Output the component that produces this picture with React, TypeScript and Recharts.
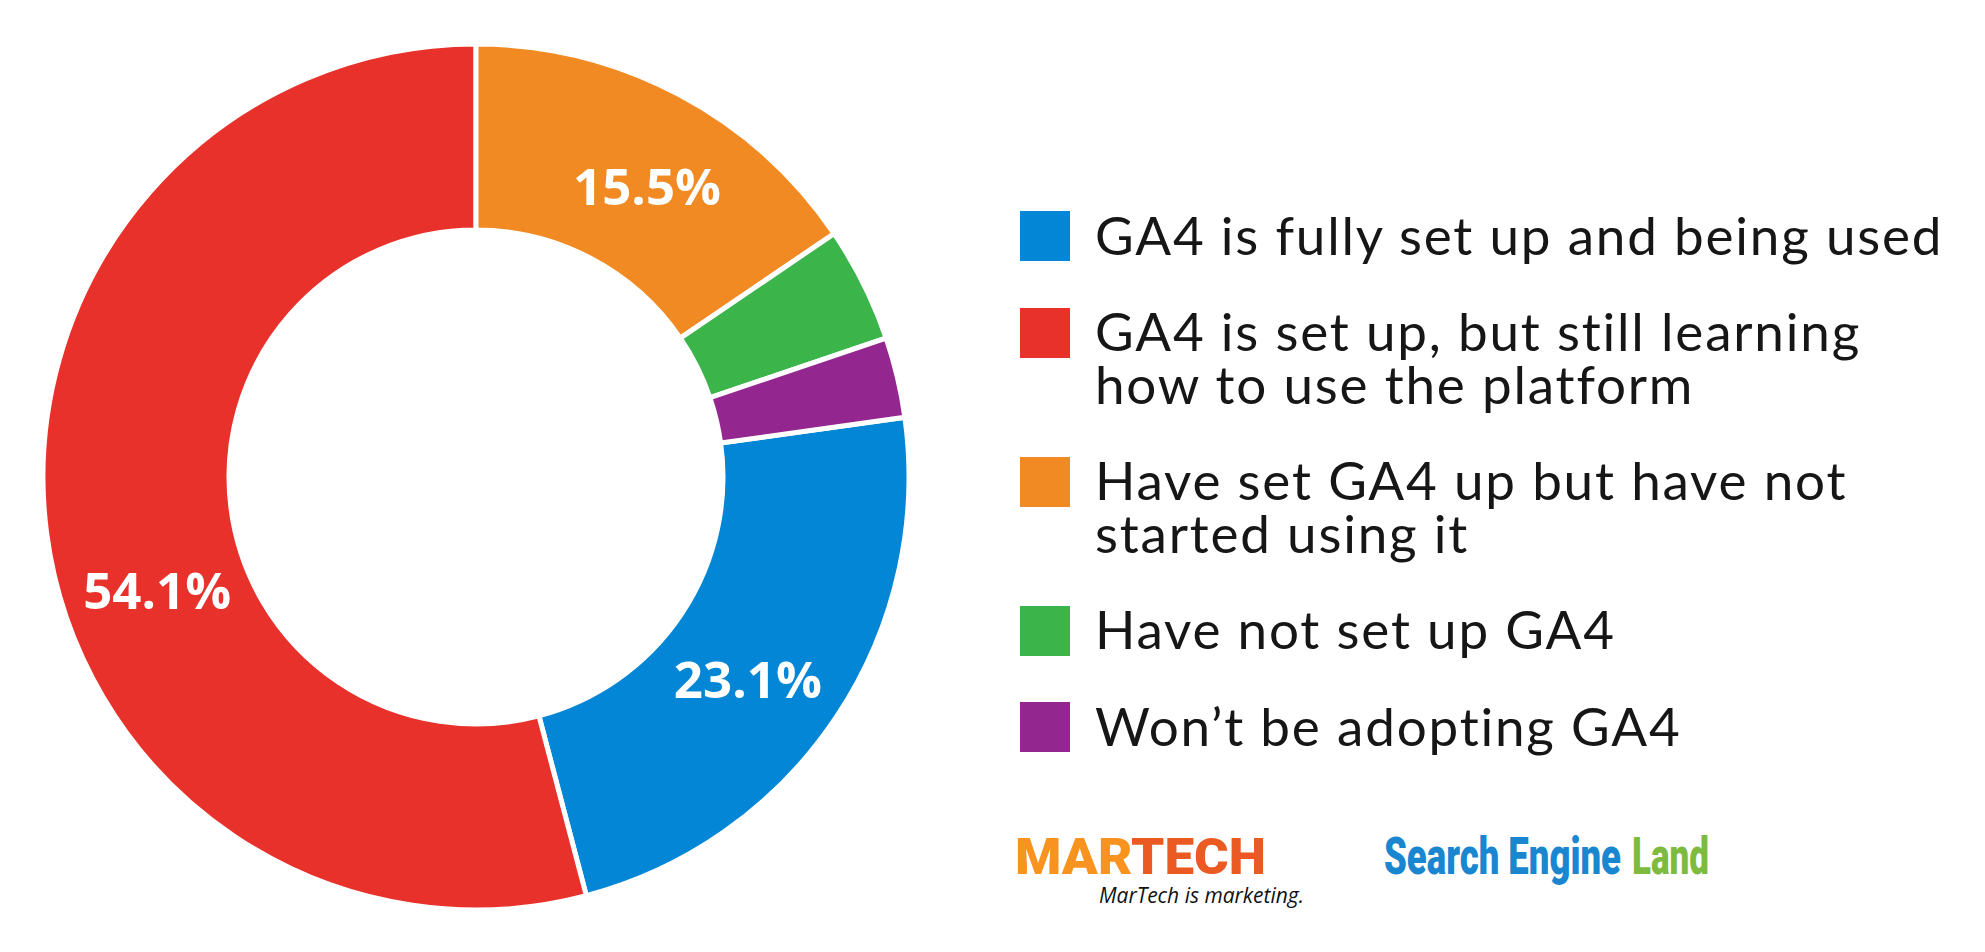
import { Cell, Legend, Pie, PieChart } from "recharts";

const categories = [
  "GA4 is fully set up and being used",
  "GA4 is set up, but still learning\nhow to use the platform",
  "Have set GA4 up but have not\nstarted using it",
  "Have not set up GA4",
  "Won’t be adopting GA4",
];
const shares = [23.1, 54.1, 15.5, 4.3, 3.0];
const colors = ["#0386D5", "#E8312A", "#F18A22", "#3BB44A", "#93278F"];

// nudges (degrees clockwise) for the in-ring percent labels
const labelNudge = [2.8, -12, 2.5, 0, 0];

const data = categories.map((name, i) => ({ name, value: shares[i] }));

// first slice (blue) starts right after the three trailing slices, counted from 12 o'clock
const trailing = shares.slice(2).reduce((a, b) => a + b, 0);
const total = shares.reduce((a, b) => a + b, 0);
const startAngle = 90 - (trailing / total) * 360;

function renderLabel(props: any) {
  const { cx, cy, midAngle, index, value } = props;
  if (value < 10) return null;
  const a = ((midAngle - labelNudge[index]) * Math.PI) / 180;
  const r = 338;
  return (
    <text
      x={cx + r * Math.cos(a)}
      y={cy - r * Math.sin(a)}
      fill="#fff"
      textAnchor="middle"
      dominantBaseline="central"
      fontFamily="'Open Sans', sans-serif"
      fontWeight={700}
      fontSize={51}
    >
      {value.toFixed(1)}%
    </text>
  );
}

function LegendList() {
  return (
    <div style={{ fontFamily: "Lato, sans-serif", color: "#161616" }}>
      {categories.map((c, i) => (
        <div key={c} style={{ display: "flex", alignItems: "flex-start", marginBottom: 45 }}>
          <div
            style={{
              width: 50,
              height: 50,
              background: colors[i],
              marginTop: 1.5,
              flexShrink: 0,
            }}
          />
          <div
            style={{
              marginLeft: 25,
              marginTop: -2,
              fontSize: 53,
              letterSpacing: 1.8,
              lineHeight: "53px",
              whiteSpace: "pre-line",
            }}
          >
            {c}
          </div>
        </div>
      ))}
    </div>
  );
}

export default function App() {
  return (
    <div
      style={{
        position: "absolute",
        left: 0,
        top: 0,
        width: 1985,
        height: 952,
        background: "#fff",
        overflow: "hidden",
      }}
    >
      <PieChart width={1985} height={952} margin={{ top: 0, right: 0, bottom: 0, left: 0 }}>
        <Pie
          data={data}
          dataKey="value"
          nameKey="name"
          cx={476}
          cy={477}
          innerRadius={247}
          outerRadius={433}
          startAngle={startAngle}
          endAngle={startAngle - 360}
          stroke="#fff"
          strokeWidth={5}
          label={renderLabel}
          labelLine={false}
          isAnimationActive={false}
        >
          {data.map((d, i) => (
            <Cell key={d.name} fill={colors[i]} />
          ))}
        </Pie>
        <Legend
          layout="vertical"
          wrapperStyle={{ left: 1020, top: 209.5, width: 960 }}
          content={() => <LegendList />}
        />
      </PieChart>
      <svg
        width={1985}
        height={952}
        style={{ position: "absolute", left: 0, top: 0, pointerEvents: "none" }}
      >
        <text
          x={1015}
          y={874}
          fontFamily="Roboto, sans-serif"
          fontWeight={900}
          fontSize={50}
          textLength={251}
          lengthAdjust="spacingAndGlyphs"
        >
          <tspan fill="#F7931E">MAR</tspan>
          <tspan fill="#EC5A24">TECH</tspan>
        </text>
        <text
          x={1099}
          y={903}
          fontFamily="'Open Sans', sans-serif"
          fontStyle="italic"
          fontSize={21}
          fill="#111"
          textLength={205}
          lengthAdjust="spacingAndGlyphs"
        >
          MarTech is marketing.
        </text>
        <text
          x={1384}
          y={874}
          fill="#1A86CF"
          fontFamily="Roboto, sans-serif"
          fontWeight={900}
          fontSize={52}
          textLength={237}
          lengthAdjust="spacingAndGlyphs"
        >
          Search Engine
        </text>
        <text
          x={1632}
          y={874}
          fill="#7DBB40"
          fontFamily="Roboto, sans-serif"
          fontWeight={900}
          fontSize={52}
          textLength={77}
          lengthAdjust="spacingAndGlyphs"
        >
          Land
        </text>
      </svg>
    </div>
  );
}
